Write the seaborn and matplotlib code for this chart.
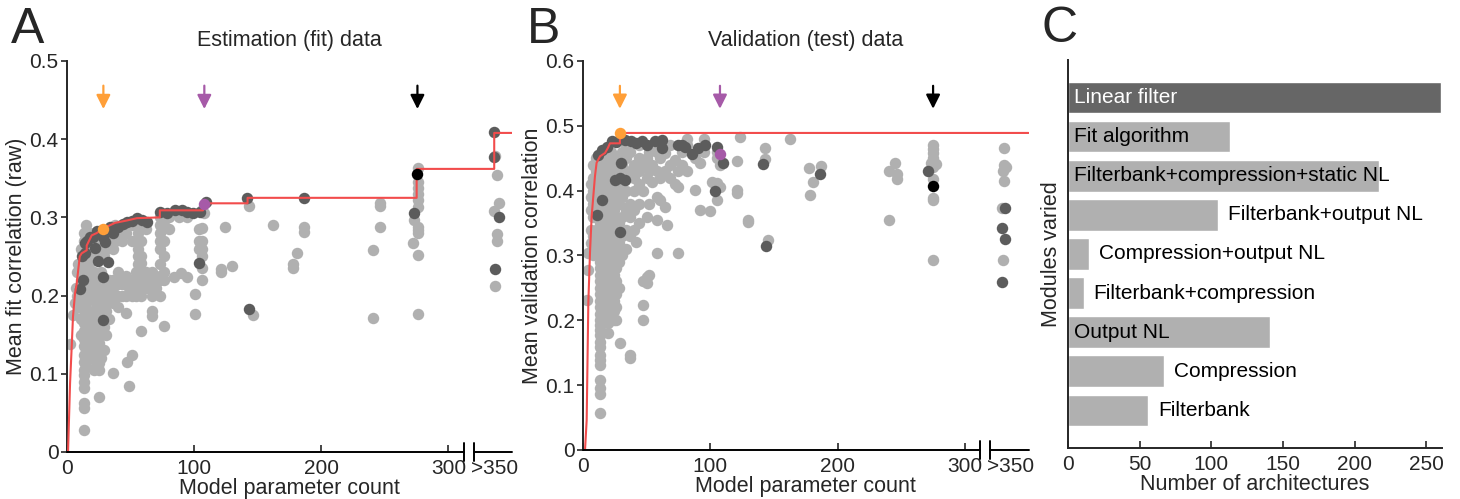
import numpy as np
import pandas as pd
import seaborn as sns
import matplotlib.pyplot as plt

# ---- Panel A: estimation (fit) data, (parameter count, mean fit correlation)
a_light = [
    (2, 0.138), (5, 0.175), (6, 0.19), (7, 0.21), (8, 0.23), (8, 0.2), (9, 0.24), (9, 0.185),
    (11, 0.15), (11, 0.17), (11, 0.19), (11, 0.22), (11, 0.24), (11, 0.26),
    (13, 0.028), (13, 0.056), (13, 0.063), (13, 0.082), (13, 0.089), (13, 0.098), (13, 0.105),
    (13, 0.115), (13, 0.124), (13, 0.135), (13, 0.145), (13, 0.155), (13, 0.165), (13, 0.175),
    (13, 0.185), (13, 0.195), (13, 0.205), (13, 0.215), (13, 0.23), (13, 0.24), (13, 0.25),
    (13, 0.26), (13, 0.27), (13, 0.28),
    (15, 0.11), (15, 0.13), (15, 0.15), (15, 0.17), (15, 0.19), (15, 0.21), (15, 0.23), (15, 0.25),
    (15, 0.27), (15, 0.29),
    (17, 0.16), (17, 0.18), (17, 0.2), (17, 0.22), (17, 0.24), (17, 0.26), (17, 0.28),
    (19, 0.12), (19, 0.14), (19, 0.17), (19, 0.2), (19, 0.23), (19, 0.25), (19, 0.27),
    (21, 0.105), (21, 0.13), (21, 0.15), (21, 0.18), (21, 0.21), (21, 0.23), (21, 0.26), (21, 0.28),
    (23, 0.11), (23, 0.14), (23, 0.16), (23, 0.19), (23, 0.22), (23, 0.25), (23, 0.27),
    (25, 0.07), (25, 0.105), (25, 0.114), (25, 0.128), (25, 0.139), (25, 0.155), (25, 0.17),
    (25, 0.19), (25, 0.2), (25, 0.21), (25, 0.25), (25, 0.27), (25, 0.28),
    (27, 0.12), (27, 0.15), (27, 0.18), (27, 0.2), (27, 0.23), (27, 0.26),
    (29, 0.13), (29, 0.16), (29, 0.18), (29, 0.19), (29, 0.21), (29, 0.25), (29, 0.27),
    (31, 0.15), (31, 0.18), (31, 0.2), (31, 0.22), (31, 0.26), (31, 0.28),
    (33, 0.17), (33, 0.2), (33, 0.21), (33, 0.22), (33, 0.27),
    (36, 0.101), (36, 0.19), (36, 0.21), (36, 0.22), (36, 0.26), (36, 0.28),
    (38, 0.2), (38, 0.22), (38, 0.27), (38, 0.29),
    (40, 0.185), (40, 0.2), (40, 0.215), (40, 0.23), (40, 0.28),
    (43, 0.2), (43, 0.215), (43, 0.22), (43, 0.27), (43, 0.29),
    (46, 0.178), (46, 0.2), (46, 0.22), (46, 0.225), (46, 0.28), (47, 0.115),
    (49, 0.084), (49, 0.21), (49, 0.22),
    (51, 0.124), (51, 0.2), (51, 0.215), (51, 0.27), (51, 0.29),
    (54, 0.2), (54, 0.22), (54, 0.23),
    (56, 0.21), (56, 0.22), (56, 0.24), (56, 0.25), (56, 0.26), (56, 0.27), (56, 0.28), (56, 0.29),
    (58, 0.155), (58, 0.242), (58, 0.2), (58, 0.215), (58, 0.23), (58, 0.25), (58, 0.27), (58, 0.29),
    (62, 0.21), (62, 0.22), (62, 0.23), (62, 0.285), (65, 0.21), (65, 0.22),
    (67, 0.174), (67, 0.18), (67, 0.2), (67, 0.215), (67, 0.23),
    (70, 0.21), (70, 0.22), (70, 0.225),
    (73, 0.2), (73, 0.22), (73, 0.24), (73, 0.26), (73, 0.27), (73, 0.28), (73, 0.29), (73, 0.3),
    (76, 0.161), (76, 0.22), (76, 0.23), (76, 0.25), (76, 0.27), (76, 0.29),
    (80, 0.285), (80, 0.3), (84, 0.224), (88, 0.3), (90, 0.229), (94, 0.224), (94, 0.3),
    (101, 0.202), (101, 0.176), (104, 0.26), (104, 0.27), (104, 0.285),
    (106, 0.235), (106, 0.22), (106, 0.286), (106, 0.27), (106, 0.26), (106, 0.25), (106, 0.31),
    (108, 0.305), (121, 0.234), (121, 0.23), (124, 0.288), (130, 0.238), (143, 0.315),
    (146, 0.175), (162, 0.29), (178, 0.24), (178, 0.235), (181, 0.255), (186, 0.288), (186, 0.281),
    (241, 0.258), (241, 0.171), (246, 0.319), (246, 0.315), (246, 0.288),
    (276, 0.363), (276, 0.345), (276, 0.338), (276, 0.33), (276, 0.322), (276, 0.313),
    (273, 0.297), (276, 0.288), (276, 0.284), (276, 0.28), (272, 0.267), (276, 0.252), (276, 0.176),
    (337, 0.378), (338, 0.354), (340, 0.318), (336, 0.308), (338, 0.279), (338, 0.27), (337, 0.212),
]
a_dark = [
    (10.2, 0.209), (11.5, 0.25), (12.9, 0.22), (14.2, 0.254), (14.2, 0.267), (16, 0.27),
    (18, 0.275), (20.7, 0.275), (22, 0.261), (23.4, 0.282), (24.6, 0.244), (26, 0.283),
    (28.6, 0.275), (28.6, 0.224), (28.6, 0.169), (30, 0.269), (32.5, 0.243), (33.9, 0.288),
    (36.5, 0.28), (40.4, 0.288), (44.4, 0.292), (47, 0.294), (51, 0.295), (54.9, 0.299),
    (58.8, 0.297), (62.7, 0.294), (73.2, 0.307), (78.5, 0.305), (85, 0.31), (90.3, 0.309),
    (94, 0.307), (99.4, 0.305), (104.7, 0.307), (109, 0.32), (104, 0.242), (143.5, 0.183),
    (141.7, 0.325), (186.6, 0.325), (272.6, 0.306), (336, 0.409), (336, 0.377), (340, 0.3),
    (337, 0.234),
]
a_env_x = [0.8, 2.4, 3.7, 4.7, 6.3, 7.6, 10, 11.5, 15.5, 15.5, 19.4, 23.4, 28.6, 37.8, 47, 55,
           73, 73, 107, 107, 142, 142, 275, 275, 336, 336, 350]
a_env_y = [0, 0.088, 0.135, 0.173, 0.203, 0.215, 0.25, 0.254, 0.258, 0.264, 0.277, 0.28, 0.286,
           0.293, 0.296, 0.299, 0.3, 0.309, 0.309, 0.318, 0.318, 0.325, 0.325, 0.362, 0.362,
           0.408, 0.408]
a_special = [(28.6, 0.285, 'orange'), (108, 0.317, 'purple'), (275.6, 0.355, 'black')]

# ---- Panel B: validation (test) data
b_light = [
    (3, 0.231), (4.2, 0.278), (4, 0.304),
    (6, 0.32), (6, 0.34), (6, 0.37), (6, 0.39), (6, 0.41),
    (8, 0.3), (8, 0.33), (8, 0.36), (8, 0.38), (8, 0.4), (8, 0.42), (8, 0.44),
    (10, 0.31), (10, 0.34), (10, 0.37), (10, 0.39), (10, 0.41), (10, 0.43), (10, 0.45),
    (13, 0.057), (13, 0.087), (13, 0.095), (13, 0.108), (13, 0.131), (13, 0.139), (13, 0.147),
    (13, 0.159), (13, 0.167), (13, 0.177), (13, 0.185), (13, 0.193), (13, 0.201), (13, 0.21),
    (13, 0.22), (13, 0.23), (13, 0.24), (13, 0.25), (13, 0.26), (13, 0.27), (13, 0.28),
    (13, 0.29), (13, 0.3), (13, 0.31), (13, 0.32), (13, 0.33), (13, 0.34), (13, 0.35),
    (13, 0.36), (13, 0.37), (13, 0.38), (13, 0.39), (13, 0.4), (13, 0.41), (13, 0.42),
    (13, 0.43), (13, 0.44), (13, 0.45),
    (15, 0.2), (15, 0.24), (15, 0.28), (15, 0.3), (15, 0.32), (15, 0.34), (15, 0.36), (15, 0.38),
    (15, 0.4), (15, 0.42), (15, 0.44), (15, 0.46),
    (17, 0.22), (17, 0.26), (17, 0.29), (17, 0.31), (17, 0.33), (17, 0.35), (17, 0.37),
    (17, 0.39), (17, 0.41), (17, 0.43), (17, 0.45),
    (19.4, 0.18), (19.4, 0.196), (19.4, 0.21), (19.4, 0.23), (19.4, 0.25), (19.4, 0.27),
    (19.4, 0.29), (19.4, 0.31), (19.4, 0.33), (19.4, 0.35), (19.4, 0.37), (19.4, 0.39),
    (19.4, 0.41), (19.4, 0.43), (19.4, 0.45), (19.4, 0.46),
    (22, 0.22), (22, 0.24), (22, 0.26), (22, 0.28), (22, 0.3), (22, 0.32), (22, 0.34),
    (22, 0.36), (22, 0.38), (22, 0.4), (22, 0.42), (22, 0.44), (22, 0.46),
    (24, 0.2), (24, 0.215), (24, 0.23), (24, 0.25), (24, 0.27), (24, 0.29), (24, 0.33),
    (24, 0.35), (24, 0.37), (24, 0.39), (24, 0.41), (24, 0.43), (24, 0.45),
    (26, 0.2), (26, 0.22), (26, 0.24), (26, 0.26), (26, 0.28), (26, 0.31), (26, 0.34),
    (26, 0.36), (26, 0.38), (26, 0.4), (26, 0.43), (26, 0.45),
    (28, 0.25), (28, 0.29), (28, 0.3), (28, 0.32), (28, 0.35), (28, 0.38), (28, 0.43), (28, 0.45),
    (29, 0.165),
    (31, 0.3), (31, 0.33), (31, 0.36), (31, 0.39), (31, 0.41), (31, 0.44), (31, 0.46),
    (34, 0.31), (34, 0.34), (34, 0.37), (34, 0.4), (34, 0.42), (34, 0.45), (34, 0.47),
    (37, 0.147), (37, 0.142), (37, 0.33), (37, 0.36), (37, 0.38), (37, 0.43), (37, 0.46),
    (40, 0.34), (40, 0.37), (40, 0.4), (40, 0.42), (40, 0.44), (41.4, 0.321),
    (44, 0.35), (44, 0.38), (44, 0.41), (44, 0.43), (44, 0.45), (44, 0.47),
    (47.4, 0.224), (47.4, 0.2), (47.4, 0.26), (47.4, 0.4), (47.4, 0.44),
    (50, 0.258), (50, 0.267), (50, 0.36), (50, 0.42), (50, 0.45),
    (52, 0.27), (52, 0.38), (52, 0.43), (52, 0.46), (54, 0.414), (54, 0.44), (54, 0.47),
    (57.9, 0.304), (57.9, 0.355), (57.9, 0.39), (57.9, 0.43), (57.9, 0.46),
    (60.5, 0.386), (60.5, 0.42), (60.5, 0.45), (64.4, 0.375), (64.4, 0.458), (64.4, 0.43),
    (65.7, 0.347), (68, 0.42), (68, 0.44), (68, 0.47), (72.3, 0.447), (72.3, 0.41),
    (74.9, 0.304), (74.9, 0.406), (74.9, 0.43), (78, 0.44), (78, 0.46),
    (82, 0.43), (82, 0.47), (82, 0.48), (88, 0.401), (88, 0.45), (92, 0.37), (92, 0.442),
    (95, 0.46), (95, 0.48), (100, 0.369), (101, 0.414), (105, 0.412), (105, 0.45), (105, 0.46),
    (105, 0.386), (107.6, 0.406), (107.6, 0.44), (120.7, 0.445), (120.7, 0.401), (120.7, 0.397),
    (123, 0.482), (130, 0.354), (130, 0.352), (143, 0.466), (143, 0.449), (145, 0.324),
    (162.6, 0.48), (177.8, 0.435), (178.3, 0.394), (181, 0.413), (186.7, 0.438),
    (240.6, 0.43), (240.6, 0.355), (245, 0.442), (246.4, 0.426), (246.4, 0.418),
    (275, 0.471), (275, 0.464), (275, 0.458), (275, 0.45), (273, 0.443), (277, 0.441),
    (275, 0.437), (275, 0.418), (275, 0.388), (275, 0.385), (275, 0.293),
    (331, 0.466), (331, 0.44), (332, 0.436), (330, 0.43), (331, 0.415), (329, 0.373), (330, 0.293),
]
b_dark = [
    (11.8, 0.455), (14.7, 0.463), (18.6, 0.468), (22.5, 0.476), (26, 0.475), (33, 0.478),
    (38, 0.476), (42, 0.473), (46, 0.476), (50, 0.47), (56.6, 0.476), (62, 0.478), (62, 0.466),
    (74.6, 0.471), (77.5, 0.471), (80, 0.468), (85.4, 0.457), (90.5, 0.466), (96, 0.471),
    (105, 0.468), (110, 0.442), (103.7, 0.399), (141.6, 0.441), (29.8, 0.443), (25, 0.417),
    (29, 0.42), (33, 0.417), (14.7, 0.386), (10.8, 0.363), (29, 0.336), (143.5, 0.315),
    (186, 0.426), (271, 0.43), (331.5, 0.373), (329, 0.343), (331.5, 0.325), (329, 0.259),
]
b_env_x = [1.6, 2.9, 4.2, 5.5, 6.8, 9.4, 10.7, 13.4, 17.3, 19.6, 21.2, 27.5, 29, 29, 350]
b_env_y = [0, 0.046, 0.227, 0.304, 0.36, 0.422, 0.443, 0.453, 0.458, 0.466, 0.473, 0.473,
           0.473, 0.489, 0.489]
b_special = [(29, 0.489, 'orange'), (107.6, 0.456, 'purple'), (275, 0.407, 'black')]

# ---- Panel C: number of architectures per varied module
modules = ['Linear filter', 'Fit algorithm', 'Filterbank+compression+static NL',
           'Filterbank+output NL', 'Compression+output NL', 'Filterbank+compression',
           'Output NL', 'Compression', 'Filterbank']
n_arch = [260, 113, 217, 105, 15, 11, 141, 67, 56]
label_inside = [True, True, True, False, False, False, True, False, False]

LIGHT = '#b0b0b0'
DARK = '#5c5c5c'
RED = '#f24c4c'
SPECIAL = {'orange': '#ff9f38', 'purple': '#a65aa8', 'black': '#000000'}

sns.set_style('ticks')
plt.rcParams['font.family'] = ['Liberation Sans', 'DejaVu Sans']
plt.rcParams['axes.linewidth'] = 1.4

fig = plt.figure(figsize=(14.6, 4.99), dpi=100)
ax_a = fig.add_axes([0.0459, 0.0942, 0.3048, 0.7836])
ax_b = fig.add_axes([0.3993, 0.0982, 0.3052, 0.7796])
ax_c = fig.add_axes([0.7315, 0.1022, 0.2562, 0.7776])


def scatter_panel(ax, light, dark, env_x, env_y, special, ymax, ylabel, title, letter, arrow_y):
    dl = pd.DataFrame(light, columns=['x', 'y'])
    dd = pd.DataFrame(dark, columns=['x', 'y'])
    sns.scatterplot(data=dl, x='x', y='y', color=LIGHT, s=68, linewidth=0, ax=ax, zorder=2)
    sns.scatterplot(data=dd, x='x', y='y', color=DARK, s=68, linewidth=0, ax=ax, zorder=3)
    ax.plot(env_x, env_y, color=RED, lw=1.5, zorder=4)
    for x, y, c in special:
        ax.scatter([x], [y], color=SPECIAL[c], s=68, linewidth=0, zorder=5)
        ax.annotate('', xy=(x, arrow_y[1]), xytext=(x, arrow_y[0]),
                    arrowprops=dict(arrowstyle='-|>', color=SPECIAL[c], lw=1.6,
                                    mutation_scale=21))
    ax.set_xlim(0, 350)
    ax.set_ylim(0, ymax)
    ticks = np.round(np.arange(0, ymax + 0.01, 0.1), 1)
    ax.set_yticks(ticks)
    ax.set_yticklabels(['0'] + [f'{t:g}' for t in ticks[1:]])
    ax.set_xticks([0, 100, 200, 300, 336])
    ax.set_xticklabels(['0', '100', '200', '300', '>350'])
    ax.xaxis.get_major_ticks()[-1].tick1line.set_visible(False)
    ax.tick_params(axis='x', direction='in', length=5, width=1.2, labelsize=15, pad=5)
    ax.tick_params(axis='y', direction='out', length=4, width=1.2, labelsize=15, pad=2)
    ax.set_xlabel('Model parameter count', fontsize=15.5, labelpad=0)
    ax.set_ylabel(ylabel, fontsize=15.5, labelpad=2)
    ax.set_title(title, fontsize=15.5, pad=11)
    sns.despine(ax=ax)
    # broken x axis
    ax.spines['bottom'].set_visible(False)
    tr = ax.get_xaxis_transform()
    kw = dict(color='black', lw=1.4, transform=tr, clip_on=False, zorder=6)
    ax.plot([0, 312], [0, 0], **kw)
    ax.plot([320, 350], [0, 0], **kw)
    ax.plot([312, 312], [-0.022, 0.022], **kw)
    ax.plot([320, 320], [-0.022, 0.022], **kw)
    ax.text(-0.125, 1.02, letter, transform=ax.transAxes, fontsize=36, va='bottom', ha='left')


scatter_panel(ax_a, a_light, a_dark, a_env_x, a_env_y, a_special, 0.5,
              'Mean fit correlation (raw)', 'Estimation (fit) data', 'A', (0.472, 0.435))
scatter_panel(ax_b, b_light, b_dark, b_env_x, b_env_y, b_special, 0.6,
              'Mean validation correlation', 'Validation (test) data', 'B', (0.566, 0.522))

# ---- Panel C
dc = pd.DataFrame({'module': modules, 'n': n_arch})
sns.barplot(data=dc, x='n', y='module', orient='h', color=LIGHT, width=0.8,
            saturation=1, ax=ax_c)
ax_c.patches[0].set_facecolor('#666666')
for i, (name, n, inside) in enumerate(zip(modules, n_arch, label_inside)):
    if inside:
        ax_c.annotate(name, xy=(0, i), xytext=(4, 0), textcoords='offset points',
                      va='center', ha='left', fontsize=15,
                      color='white' if i == 0 else 'black')
    else:
        ax_c.annotate(name, xy=(n, i), xytext=(7, 0), textcoords='offset points',
                      va='center', ha='left', fontsize=15, color='black')
ax_c.set_xlim(0, 261)
ax_c.set_ylim(8.97, -0.97)
ax_c.set_yticks([])
ax_c.set_xticks([0, 50, 100, 150, 200, 250])
ax_c.tick_params(axis='x', direction='in', length=5, width=1.2, labelsize=15, pad=5)
ax_c.set_xlabel('Number of architectures', fontsize=15.5, labelpad=0)
ax_c.set_ylabel('Modules varied', fontsize=15.5, labelpad=4)
sns.despine(ax=ax_c)
ax_c.text(-0.07, 1.02, 'C', transform=ax_c.transAxes, fontsize=36, va='bottom', ha='left')

fig.savefig('out.png', dpi=100)
